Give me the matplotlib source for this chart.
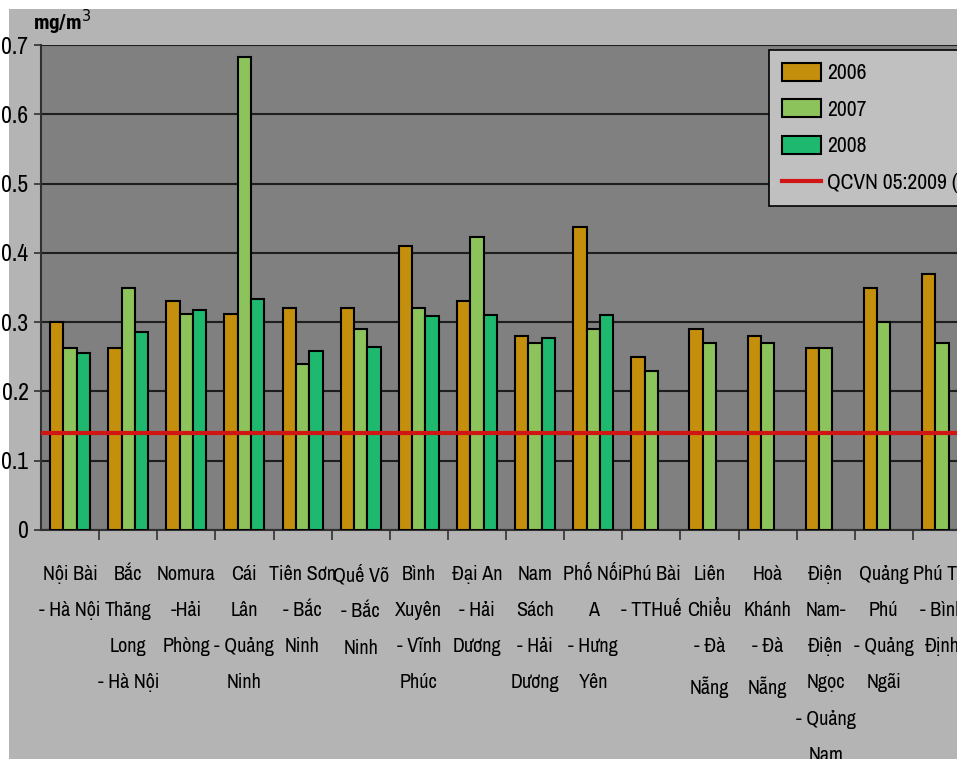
import numpy as np
import matplotlib
matplotlib.use('Agg')
import matplotlib.pyplot as plt
from matplotlib.patches import Rectangle

plt.rcParams['font.family'] = ['Archivo Narrow', 'Roboto Condensed', 'DejaVu Sans']

# trạm quan trắc
stations = ['Nội Bài\n- Hà Nội', 'Bắc\nThăng\nLong\n- Hà Nội', 'Nomura\n-Hải\nPhòng',
            'Cái\nLân\n- Quảng\nNinh', 'Tiên Sơn\n- Bắc\nNinh', 'Quế Võ\n- Bắc\nNinh',
            'Bình\nXuyên\n- Vĩnh\nPhúc', 'Đại An\n- Hải\nDương', 'Nam\nSách\n- Hải\nDương',
            'Phố Nối\nA\n- Hưng\nYên', 'Phú Bài\n- TTHuế', 'Liên\nChiểu\n- Đà\nNẵng',
            'Hoà\nKhánh\n- Đà\nNẵng', 'Điện\nNam-\nĐiện\nNgọc\n- Quảng\nNam',
            'Quảng\nPhú\n- Quảng\nNgãi', 'Phú Tài\n- Bình\nĐịnh']

v2006 = [0.30, 0.262, 0.33, 0.312, 0.32, 0.32, 0.41, 0.33, 0.28, 0.438,
         0.25, 0.29, 0.28, 0.262, 0.349, 0.37]
v2007 = [0.262, 0.349, 0.312, 0.683, 0.24, 0.29, 0.32, 0.423, 0.27, 0.29,
         0.23, 0.27, 0.27, 0.262, 0.30, 0.27]
v2008 = [0.255, 0.286, 0.317, 0.333, 0.258, 0.264, 0.309, 0.311, 0.277, 0.311,
         np.nan, np.nan, np.nan, np.nan, np.nan, np.nan]
qcvn = 0.14

years = ['2006', '2007', '2008']
colors = ['#c48f0c', '#8cc35a', '#1eb96e']

W, H = 957, 759
fig = plt.figure(figsize=(W / 100, H / 100), dpi=100, facecolor='white')
fig.patches.append(Rectangle((9 / W, 0), 1, 1 - 9 / H, transform=fig.transFigure,
                             facecolor='#b4b4b4', edgecolor='none', zorder=-10))

ax = fig.add_axes([41 / W, 1 - 530 / H, 930 / W, 485 / H])
ax.set_facecolor('#808080')

x = np.arange(len(stations))
bw = 0.23
bars = []
for i, (vals, c, lab) in enumerate(zip([v2006, v2007, v2008], colors, years)):
    b = ax.bar(x + (i - 1) * bw, vals, bw, color=c, edgecolor='black', linewidth=1.5,
               label=lab, zorder=3)
    bars.append(b)

ln = ax.axhline(qcvn, color='#d01515', linewidth=3, zorder=4, label='QCVN 05:2009 (TB năm)')

ax.set_xlim(-0.5, len(stations) - 0.5)
ax.set_ylim(0, 0.7)
ax.set_yticks(np.arange(0, 0.71, 0.1))
ax.set_yticklabels(['0', '0.1', '0.2', '0.3', '0.4', '0.5', '0.6', '0.7'], fontsize=17)
ax.yaxis.grid(True, color='#1e1e1e', linewidth=1.5, zorder=1)
ax.set_axisbelow(True)

ax.set_xticks(x)
ax.set_xticklabels(stations, fontsize=14.5, linespacing=2.15, va='top')
ax.tick_params(axis='x', which='major', length=0, pad=25)
ax.set_xticks(x[:-1] + 0.5, minor=True)
ax.tick_params(axis='x', which='minor', length=7, width=1.2, color='#303030', direction='out')
ax.tick_params(axis='y', length=5, width=1.2, color='#303030', pad=4)

for s in ['top', 'right']:
    ax.spines[s].set_visible(False)
ax.spines['left'].set_color('#303030')
ax.spines['bottom'].set_color('#303030')
ax.spines['left'].set_linewidth(1.5)
ax.spines['bottom'].set_linewidth(1.5)

fig.text(62 / W, 1 - 22 / H, 'mg/m$^3$', fontsize=15, fontweight='bold',
         family=['Roboto Condensed', 'DejaVu Sans'], ha='center', va='center')

leg = ax.legend(bars + [ln], years + ['QCVN 05:2009 (TB năm)'],
                loc='upper left', bbox_to_anchor=(769 / W, 1 - 50 / H),
                bbox_transform=fig.transFigure, fontsize=15.5, frameon=True,
                fancybox=False, edgecolor='black', facecolor='#c0c0c0', framealpha=1,
                handlelength=1.8, handleheight=0.9, handletextpad=0.3,
                labelspacing=0.75, borderpad=0.6, borderaxespad=0)
leg.get_frame().set_linewidth(1.2)

fig.savefig('out.png', dpi=100, facecolor=fig.get_facecolor())
